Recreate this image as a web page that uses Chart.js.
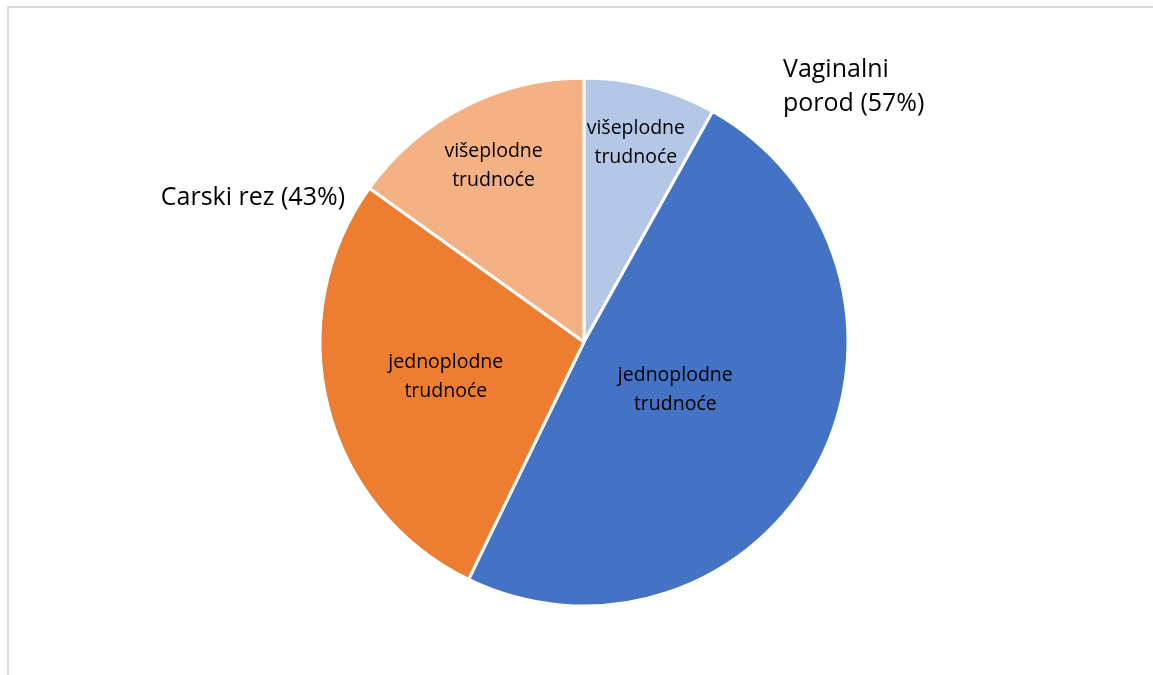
<!DOCTYPE html>
<html>
<head>
<meta charset="utf-8">
<script src="https://cdn.jsdelivr.net/npm/chart.js@4.4.1/dist/chart.umd.min.js"></script>
<style>
  html, body { margin: 0; padding: 0; background: #fff; }
  #wrap { position: relative; width: 1153px; height: 675px; }
  #frame { position: absolute; left: 7px; top: 6px; width: 1160px; height: 690px; border: 2px solid #d9d9d9; box-sizing: border-box; }
  canvas { position: absolute; left: 0; top: 0; }
</style>
</head>
<body>
<div id="wrap">
  <div id="frame"></div>
  <canvas id="pie" width="1153" height="675"></canvas>
</div>
<script>
// slices, clockwise from 12 o'clock
const sliceLabels = ['višeplodne trudnoće', 'jednoplodne trudnoće', 'jednoplodne trudnoće', 'višeplodne trudnoće'];
const sliceValues = [8.1, 49.1, 27.7, 15.1];
const sliceColors = ['#B4C7E7', '#4472C4', '#ED7D31', '#F4B183'];
const groupLabels = ['Vaginalni porod (57%)', 'Carski rez (43%)'];

// where each inner label sits, as a fraction of the radius
const labelDepth = [0.78, 0.39, 0.54, 0.75];

const labelPlugin = {
  id: 'pieLabels',
  afterDatasetsDraw(chart) {
    const ctx = chart.ctx;
    const arcs = chart.getDatasetMeta(0).data;
    ctx.save();
    ctx.fillStyle = '#000';
    ctx.textAlign = 'center';
    ctx.textBaseline = 'middle';
    ctx.font = '19.5px "Open Sans"';
    arcs.forEach((arc, i) => {
      const mid = (arc.startAngle + arc.endAngle) / 2;
      const r = arc.outerRadius * labelDepth[i];
      const x = arc.x + Math.cos(mid) * r;
      const y = arc.y + Math.sin(mid) * r;
      const lines = sliceLabels[i].split(' ');
      ctx.fillText(lines[0], x, y - 14.5);
      ctx.fillText(lines[1], x, y + 14.5);
    });

    // group labels
    const cx = arcs[0].x, cy = arcs[0].y;
    ctx.font = '25px "Open Sans"';
    ctx.textAlign = 'left';
    ctx.fillText('Vaginalni', cx + 199, cy - 272);
    ctx.fillText(groupLabels[0].replace('Vaginalni ', ''), cx + 199, cy - 238);
    ctx.textAlign = 'right';
    ctx.fillText(groupLabels[1], cx - 239, cy - 144);
    ctx.restore();
  }
};

new Chart(document.getElementById('pie'), {
  type: 'pie',
  data: {
    labels: sliceLabels,
    datasets: [{
      data: sliceValues,
      backgroundColor: sliceColors,
      borderColor: '#ffffff',
      borderWidth: 3
    }]
  },
  options: {
    responsive: false,
    animation: false,
    radius: 264,
    layout: { padding: { left: 15, top: 9 } },
    plugins: {
      legend: { display: false },
      tooltip: { enabled: false }
    }
  },
  plugins: [labelPlugin]
});
</script>
</body>
</html>
